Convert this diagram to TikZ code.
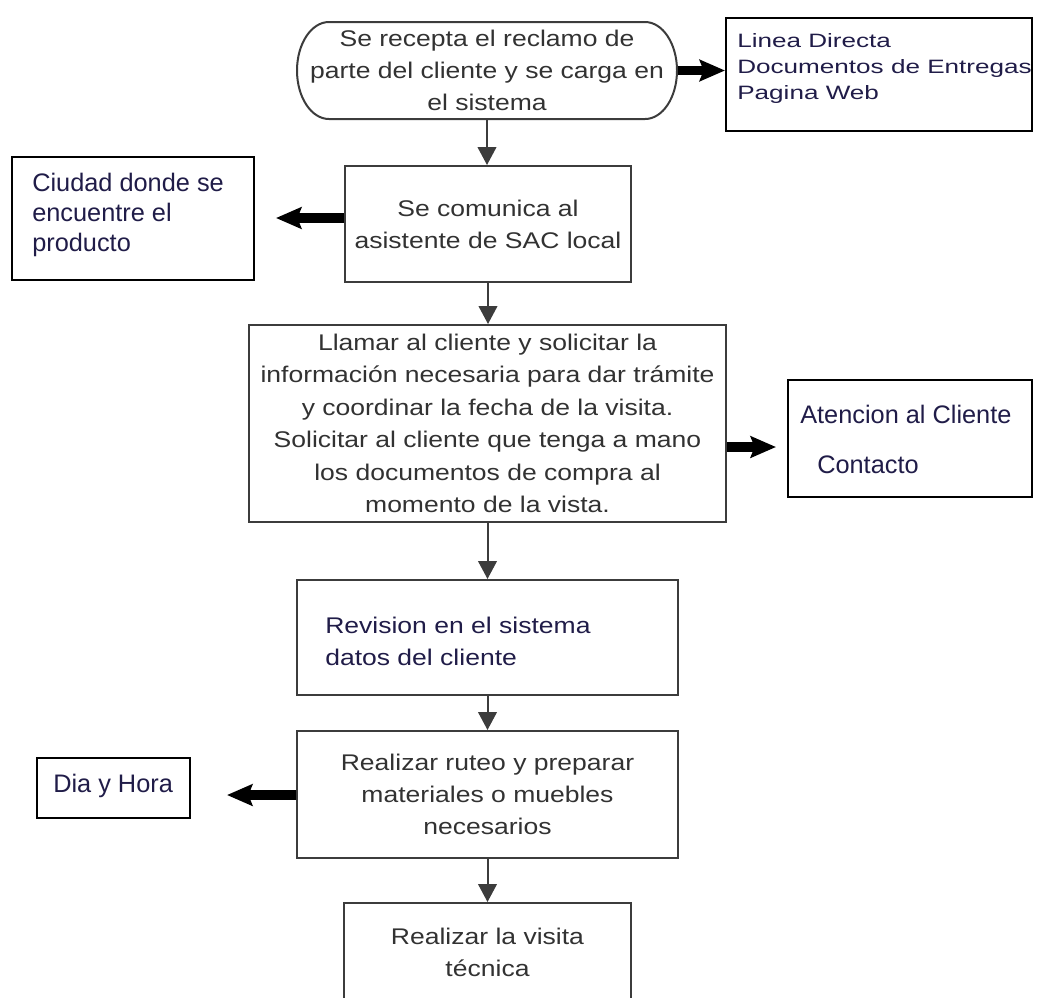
\documentclass[tikz,border=0pt]{standalone}
\usepackage{fontspec}
\setmainfont{Liberation Sans}
\newfontfamily\flowfont{Liberation Sans}[FakeStretch=1.17]
\newfontfamily\notefont{Liberation Sans}
\newfontfamily\chanfont{Liberation Sans}[FakeStretch=1.35]
\usetikzlibrary{arrows.meta,calc}

\definecolor{ink}{RGB}{50,50,50}
\definecolor{noteink}{RGB}{32,28,72}
\definecolor{edge}{RGB}{60,60,60}

\begin{document}
\begin{tikzpicture}[x=0.75pt,y=-0.75pt,
  process/.style={draw=edge,line width=1.5pt,inner sep=0pt,align=center,
    text=ink,font=\flowfont\fontsize{17}{24}\selectfont},
  notebox/.style={draw=black,line width=1.5pt,inner sep=0pt},
  notetext/.style={inner sep=0pt,align=left,text=noteink,
    font=\notefont\fontsize{19}{22.5}\selectfont},
  chantext/.style={inner sep=0pt,align=left,text=noteink,
    font=\chanfont\fontsize{14.5}{19.5}\selectfont},
  flowtext/.style={inner sep=0pt,align=left,text=noteink,
    font=\flowfont\fontsize{17}{24}\selectfont},
  flow/.style={draw=edge,line width=1.5pt,-{Triangle[length=13.5pt,width=14pt]}},
  fat/.style={draw=black,line width=6.8pt,-{Stealth[length=19pt,width=16pt,inset=3pt]}}]

\useasboundingbox (0,0) rectangle (1037,997);
\clip (0,0) rectangle (1037,997);

% start: complaint received (terminator with elliptic ends)
\node[process,draw=none,minimum width=285pt,minimum height=72.75pt] (tb) at (487,70.5)
  {Se recepta el reclamo de\\parte del cliente y se carga en\\el sistema};
\draw[draw=edge,line width=1.5pt] (329,22) -- (645,22)
  arc[start angle=-90,end angle=90,x radius=32,y radius=48.5] -- (329,119)
  arc[start angle=90,end angle=270,x radius=32,y radius=48.5] -- cycle;

% channels
\node[notebox,minimum width=229.5pt,minimum height=84.75pt] (rt) at (879,74.5) {};
\node[chantext,anchor=north west] (rt-txt) at (737,33.2)
  {Linea Directa\\Documentos de Entregas\\Pagina Web};

% local SAC assistant
\node[process,minimum width=214.5pt,minimum height=87pt] (b2) at (488,224)
  {Se comunica al\\asistente de SAC local};
\node[notebox,minimum width=181.5pt,minimum height=92.25pt] (city) at (133,218.5) {};
\node[notetext,anchor=north west] (city-txt) at (32,172.5)
  {Ciudad donde se\\encuentre el\\producto};

% call the customer
\node[process,minimum width=357.75pt,minimum height=147.75pt,
  font=\flowfont\fontsize{17}{24.4}\selectfont] (b3) at (487.5,423.5)
  {Llamar al cliente y solicitar la\\informaci\'on necesaria para dar tr\'amite\\y coordinar la fecha de la visita.\\Solicitar al cliente que tenga a mano\\los documentos de compra al\\momento de la vista.};
\node[notebox,minimum width=183pt,minimum height=87.75pt] (care) at (910,438.5) {};
\node[notetext,anchor=base west] (care-a) at (800,423.3) {Atencion al Cliente};
\node[notetext,anchor=base west] (care-b) at (817,473.3) {Contacto};

% data check
\node[process,minimum width=285.75pt,minimum height=86.25pt] (b4) at (487.5,637.5) {};
\node[flowtext,anchor=north west] (b4-txt) at (325,616.7)
  {Revision en el sistema\\datos del cliente};

% routing
\node[process,minimum width=285.75pt,minimum height=95.25pt] (b5) at (487.5,794.5)
  {Realizar ruteo y preparar\\materiales o muebles\\necesarios};
\node[notebox,minimum width=114.75pt,minimum height=45pt] (slot) at (113.5,788) {};
\node[notetext,anchor=base west] (slot-txt) at (53,792) {Dia y Hora};

% technical visit
\node[process,anchor=north,minimum width=215.25pt,minimum height=73.5pt] (b6) at (487.5,902)
  {Realizar la visita\\t\'ecnica};

% main flow
\draw[flow] (tb.south) -- (tb.south |- b2.north);
\draw[flow] (b2.south) -- (b2.south |- b3.north);
\draw[flow] (b3.south) -- (b3.south |- b4.north);
\draw[flow] (b4.south) -- (b4.south |- b5.north);
\draw[flow] (b5.south) -- (b5.south |- b6.north);

% side arrows
\coordinate (city-tip) at (276,218);
\coordinate (care-tip) at (776,447);
\coordinate (slot-tip) at (227,795);
\draw[fat] (tb.east) -- (tb.east -| rt.west);
\draw[fat] (b2.west |- city-tip) -- (city-tip);
\draw[fat] (b3.east |- care-tip) -- (care-tip);
\draw[fat] (b5.west |- slot-tip) -- (slot-tip);
\end{tikzpicture}
\end{document}
